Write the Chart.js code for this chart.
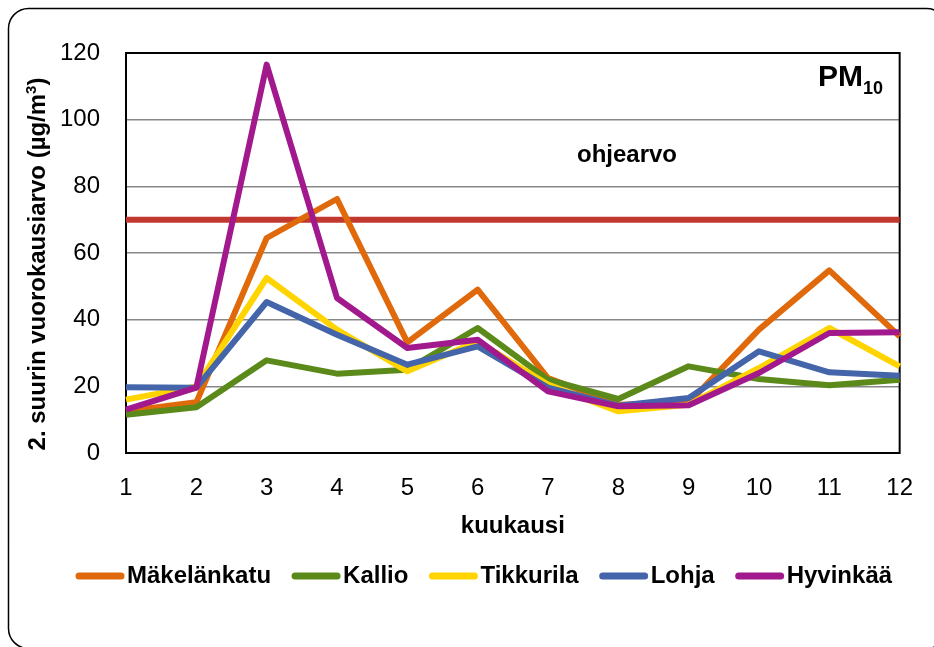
<!DOCTYPE html>
<html>
<head>
<meta charset="utf-8">
<title>PM10 kuukausittain</title>
<script src="https://cdn.jsdelivr.net/npm/chart.js@4.4.0/dist/chart.umd.min.js"></script>
<style>
    html, body { margin: 0; padding: 0; background: #fff; }
    canvas { display: block; }
</style>
</head>
<body>
<canvas id="pmChart" width="934" height="647"></canvas>
<script>
// PM10, 2. suurin vuorokausiarvo per kuukausi

const months = ['1', '2', '3', '4', '5', '6', '7', '8', '9', '10', '11', '12'];

const makelankatu = [12.5, 15.2, 64.5, 76.2, 33.2, 49.0, 22.5, 14.5, 15.0, 37.0, 54.8, 35.0];
const kallio      = [11.5, 13.7, 27.8, 23.8, 25.0, 37.5, 22.0, 16.2, 26.0, 22.2, 20.3, 22.0];
const tikkurila   = [16.0, 20.0, 52.5, 37.0, 24.5, 33.5, 20.5, 12.5, 14.5, 25.5, 37.5, 26.0];
const lohja       = [19.7, 19.6, 45.3, 35.5, 26.5, 32.0, 19.6, 14.2, 16.5, 30.5, 24.2, 23.2];
const hyvinkaa    = [13.0, 19.6, 116.5, 46.5, 31.5, 34.0, 18.5, 14.0, 14.3, 24.0, 36.0, 36.2];

const ohjearvo = 70;
const yTicks = [0, 20, 40, 60, 80, 100, 120];

const FONT = "'Liberation Sans', Arial, sans-serif";

const series = [
    { label: 'Mäkelänkatu', data: makelankatu, color: '#E06A0B' },
    { label: 'Kallio',      data: kallio,      color: '#5B8A1A' },
    { label: 'Tikkurila',   data: tikkurila,   color: '#FFD400' },
    { label: 'Lohja',       data: lohja,       color: '#4465A9' },
    { label: 'Hyvinkää',    data: hyvinkaa,    color: '#A2198E' }
];

const datasets = series.map((s, i) => ({
    label: s.label,
    data: s.data,
    borderColor: s.color,
    backgroundColor: s.color,
    borderWidth: 6,
    borderJoinStyle: 'round',
    pointRadius: 0,
    tension: 0,
    order: series.length - 1 - i,
    inLegend: true
}));

// guideline as a flat line across the whole year
datasets.push({
    label: 'ohjearvo',
    data: months.map(() => ohjearvo),
    borderColor: '#C0382E',
    borderWidth: 6,
    pointRadius: 0,
    order: 10,
    inLegend: false
});

function roundRect(ctx, x, y, w, h, r) {
    ctx.beginPath();
    ctx.moveTo(x + r, y);
    ctx.lineTo(x + w - r, y);
    ctx.arcTo(x + w, y, x + w, y + r, r);
    ctx.lineTo(x + w, y + h - r);
    ctx.arcTo(x + w, y + h, x + w - r, y + h, r);
    ctx.lineTo(x + r, y + h);
    ctx.arcTo(x, y + h, x, y + h - r, r);
    ctx.lineTo(x, y + r);
    ctx.arcTo(x, y, x + r, y, r);
    ctx.closePath();
}

const decorPlugin = {
    id: 'decor',
    beforeDraw(chart) {
        const ctx = chart.ctx;
        ctx.save();
        ctx.fillStyle = '#fff';
        ctx.fillRect(0, 0, chart.width, chart.height);
        ctx.strokeStyle = '#000';
        ctx.lineWidth = 1.5;
        roundRect(ctx, 8.5, 8.5, 938, 640, 20);
        ctx.stroke();
        ctx.restore();
    },
    beforeDatasetsDraw(chart) {
        const { ctx, chartArea: a } = chart;
        ctx.save();
        ctx.strokeStyle = '#000';
        ctx.lineWidth = 2;
        ctx.strokeRect(a.left, a.top, a.right - a.left, a.bottom - a.top);
        ctx.restore();
    },
    afterDraw(chart) {
        const { ctx, chartArea: a } = chart;
        ctx.save();
        ctx.fillStyle = '#000';
        ctx.textBaseline = 'alphabetic';

        // x title
        ctx.font = 'bold 24px ' + FONT;
        ctx.textAlign = 'center';
        ctx.fillText('kuukausi', (a.left + a.right) / 2, 533);

        // guideline label
        ctx.fillText('ohjearvo', 627, 162);

        // PM10 label
        ctx.textAlign = 'left';
        ctx.font = 'bold 30px ' + FONT;
        ctx.fillText('PM', 818, 86);
        const pmW = ctx.measureText('PM').width;
        ctx.font = 'bold 18px ' + FONT;
        ctx.fillText('10', 818 + pmW, 94);

        // y title with superscript
        const main = '2. suurin vuorokausiarvo (µg/m';
        ctx.font = 'bold 24px ' + FONT;
        const wMain = ctx.measureText(main).width;
        const wClose = ctx.measureText(')').width;
        ctx.font = 'bold 15px ' + FONT;
        const wSup = ctx.measureText('3').width;
        const total = wMain + wSup + wClose;
        ctx.translate(45, 264);
        ctx.rotate(-Math.PI / 2);
        let x = -total / 2;
        ctx.font = 'bold 24px ' + FONT;
        ctx.fillText(main, x, 0);
        x += wMain;
        ctx.font = 'bold 15px ' + FONT;
        ctx.fillText('3', x, -9);
        x += wSup;
        ctx.font = 'bold 24px ' + FONT;
        ctx.fillText(')', x, 0);
        ctx.restore();

        // legend
        ctx.save();
        ctx.font = 'bold 24px ' + FONT;
        ctx.textAlign = 'left';
        ctx.textBaseline = 'alphabetic';
        let lx = 76;
        const ly = 576;
        chart.data.datasets.filter(d => d.inLegend).forEach(d => {
            ctx.strokeStyle = d.borderColor;
            ctx.lineWidth = 7;
            ctx.lineCap = 'round';
            ctx.beginPath();
            ctx.moveTo(lx + 3, ly);
            ctx.lineTo(lx + 45, ly);
            ctx.stroke();
            lx += 51;
            ctx.fillStyle = '#000';
            ctx.fillText(d.label, lx, 583);
            lx += ctx.measureText(d.label).width + 21;
        });
        ctx.restore();
    }
};

const ctx = document.getElementById('pmChart').getContext('2d');

new Chart(ctx, {
    type: 'line',
    data: { labels: months, datasets: datasets },
    options: {
        responsive: false,
        animation: false,
        events: [],
        layout: { padding: { left: 0, top: 53, right: 27, bottom: 134 } },
        plugins: {
            legend: { display: false },
            tooltip: { enabled: false }
        },
        scales: {
            x: {
                offset: false,
                grid: { display: false, drawTicks: false },
                border: { display: false },
                ticks: {
                    color: '#000',
                    padding: 21,
                    maxRotation: 0,
                    autoSkip: false,
                    font: { family: FONT, size: 24 }
                },
                afterFit: (scale) => { scale.height = 60; }
            },
            y: {
                min: 0,
                max: 120,
                grid: { color: '#878787', lineWidth: 1.5, drawTicks: false },
                border: { display: false },
                afterBuildTicks: (scale) => {
                    scale.ticks = yTicks.map(v => ({ value: v }));
                },
                ticks: {
                    color: '#000',
                    padding: 26,
                    font: { family: FONT, size: 24 }
                },
                afterFit: (scale) => { scale.width = 126; }
            }
        }
    },
    plugins: [decorPlugin]
});
</script>
</body>
</html>
